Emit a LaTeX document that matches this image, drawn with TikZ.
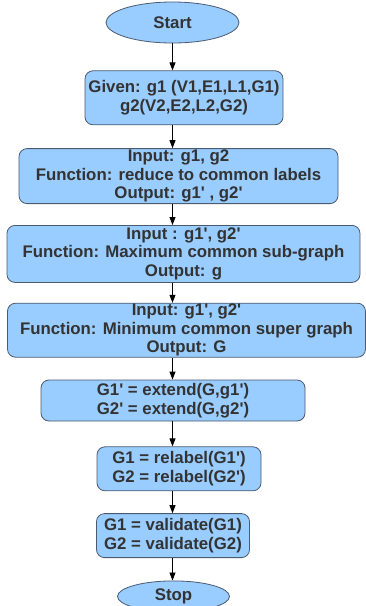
\documentclass[tikz,border=0pt]{standalone}
\usepackage{fontspec}
\setmainfont{Liberation Sans}[Ligatures=TeXOff]
\usetikzlibrary{shapes.geometric, arrows.meta, positioning}
\usepackage{xcolor}
\definecolor{boxfill}{HTML}{99CCFF}
\definecolor{boxline}{HTML}{4A5A70}
\definecolor{boxtext}{HTML}{333333}

\begin{document}
\begin{tikzpicture}[
    every node/.style={font=\bfseries\fontsize{16.8}{18.5}\selectfont, text=boxtext},
    block/.style={rectangle, draw=boxline, line width=0.8pt, rounded corners=8pt, minimum width=#1, align=center, inner sep=0pt, fill=boxfill},
    block/.default=200pt,
    term/.style={ellipse, draw=boxline, line width=0.8pt, minimum width=#1, inner sep=0pt, fill=boxfill},
    term/.default=120pt,
    arrow/.style={-{Triangle[length=8pt, width=6pt]}, line width=0.8pt},
]
\useasboundingbox (0,0) rectangle (365pt,-606pt);

% Start
\node[term=133pt, minimum height=41pt] (start) at (172.5pt,-22.5pt) {Start};

% Input graphs
\node[block=198pt, minimum height=54pt, below=27pt of start, xshift=11.5pt] (given) {Given: g1 (V1,E1,L1,G1)\\g2(V2,E2,L2,G2)};

% Processing steps
\node[block=319pt, minimum height=55pt, below=23pt of given, xshift=-5.5pt] (reduce) {Input: g1, g2\\Function: reduce to common labels\\Output: g1' , g2'};
\node[block=353pt, minimum height=57pt, below=21pt of reduce, xshift=5pt] (subgraph) {Input : g1', g2'\\Function: Maximum common sub-graph\\Output: g};
\node[block=358pt, minimum height=54pt, below=20pt of subgraph, xshift=3pt] (supergraph) {Input: g1', g2'\\Function: Minimum common super graph\\Output: G};
\node[block=264pt, minimum height=41pt, below=22pt of supergraph, xshift=-13.5pt] (extend) {G1' = extend(G,g1')\\G2' = extend(G,g2')};
\node[block=164pt, minimum height=44pt, below=25pt of extend, xshift=6pt] (relabel) {G1 = relabel(G1')\\G2 = relabel(G2')};
\node[block=153pt, minimum height=44pt, below=22pt of relabel, xshift=-6pt] (validate) {G1 = validate(G1)\\G2 = validate(G2)};

% Stop
\node[term=112pt, minimum height=31pt, below=22.5pt of validate, xshift=0.5pt] (stop) {Stop};

% Arrows
\draw[arrow] (start) -- (start |- given.north);
\draw[arrow] (given.south -| start) -- (reduce.north -| start);
\draw[arrow] (reduce.south -| start) -- (subgraph.north -| start);
\draw[arrow] (subgraph.south -| start) -- (supergraph.north -| start);
\draw[arrow] (supergraph.south -| start) -- (extend.north -| start);
\draw[arrow] (extend.south -| start) -- (relabel.north -| start);
\draw[arrow] (relabel.south -| start) -- (validate.north -| start);
\draw[arrow] (validate.south -| start) -- (stop.north -| start);

\end{tikzpicture}
\end{document}
